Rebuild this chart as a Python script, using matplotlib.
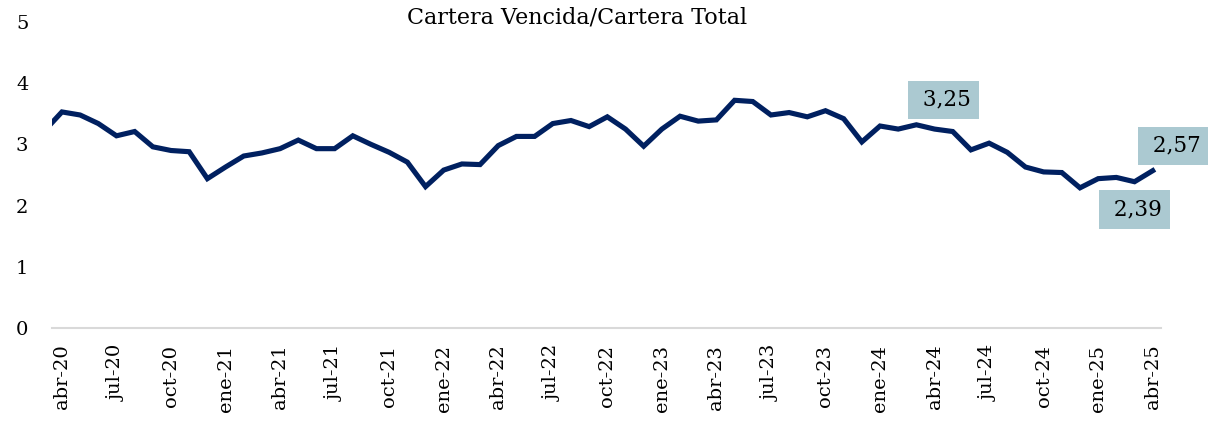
import matplotlib

matplotlib.use("Agg")
import matplotlib.pyplot as plt

# Cartera vencida / cartera total (%), mensual mar-20 .. abr-25
months = [
    "mar-20",
    "abr-20", "may-20", "jun-20", "jul-20", "ago-20", "sep-20",
    "oct-20", "nov-20", "dic-20", "ene-21", "feb-21", "mar-21",
    "abr-21", "may-21", "jun-21", "jul-21", "ago-21", "sep-21",
    "oct-21", "nov-21", "dic-21", "ene-22", "feb-22", "mar-22",
    "abr-22", "may-22", "jun-22", "jul-22", "ago-22", "sep-22",
    "oct-22", "nov-22", "dic-22", "ene-23", "feb-23", "mar-23",
    "abr-23", "may-23", "jun-23", "jul-23", "ago-23", "sep-23",
    "oct-23", "nov-23", "dic-23", "ene-24", "feb-24", "mar-24",
    "abr-24", "may-24", "jun-24", "jul-24", "ago-24", "sep-24",
    "oct-24", "nov-24", "dic-24", "ene-25", "feb-25", "mar-25",
    "abr-25",
]
ratio = [
    3.21,
    3.53, 3.48, 3.34, 3.14, 3.21, 2.96,
    2.90, 2.88, 2.44, 2.63, 2.81, 2.86,
    2.93, 3.07, 2.93, 2.93, 3.14, 3.00,
    2.87, 2.71, 2.31, 2.58, 2.68, 2.67,
    2.98, 3.13, 3.13, 3.34, 3.39, 3.29,
    3.45, 3.25, 2.97, 3.25, 3.46, 3.38,
    3.40, 3.72, 3.70, 3.48, 3.52, 3.45,
    3.55, 3.42, 3.04, 3.30, 3.25, 3.32,
    3.25, 3.21, 2.91, 3.02, 2.87, 2.63,
    2.55, 2.54, 2.29, 2.44, 2.46, 2.39,
    2.57,
]
# labelled points: same month last year, previous month, latest
highlight = ["abr-24", "mar-25", "abr-25"]

NAVY = "#002060"
BOX = "#abc9d1"
plt.rcParams["font.family"] = ["DejaVu Serif"]

x = [i - 1 for i in range(len(months))]  # abr-20 at 0

fig = plt.figure(figsize=(12.08, 4.22), dpi=100)
ax = fig.add_axes([0.043, 0.2227, 0.918, 0.7253])
ax.plot(x, ratio, color=NAVY, lw=3.7, solid_joinstyle="miter")

ax.set_xlim(-0.55, 60.45)
ax.set_ylim(0, 5)
ax.set_yticks(range(6))
ax.set_yticklabels([str(v) for v in range(6)])
tick_pos = list(range(0, 61, 3))
ax.set_xticks(tick_pos)
ax.set_xticklabels([months[p + 1] for p in tick_pos], rotation=90)
ax.tick_params(axis="both", length=0, labelsize=14)
ax.tick_params(axis="x", pad=12)
ax.tick_params(axis="y", pad=17)
for side in ("left", "right", "top"):
    ax.spines[side].set_visible(False)
ax.spines["bottom"].set_color("#d9d9d9")
ax.spines["bottom"].set_linewidth(1.5)
ax.spines["bottom"].set_zorder(0)

# annotation boxes (offsets in points from the data point)
offsets = {"abr-24": (6.5, 21), "mar-25": (0, -20), "abr-25": (15, 18)}
for m in highlight:
    i = months.index(m)
    dx, dy = offsets[m]
    ax.annotate(
        " " + f"{ratio[i]:.2f}".replace(".", ","),
        xy=(x[i], ratio[i]),
        xytext=(dx, dy),
        textcoords="offset points",
        ha="center",
        va="center",
        fontsize=15.5,
        annotation_clip=False,
        bbox=dict(boxstyle="square,pad=0.38", fc=BOX, ec="none"),
    )

fig.text(0.478, 0.958, "Cartera Vencida/Cartera Total", ha="center", va="center",
         fontsize=16)

fig.savefig("out.png", dpi=100)
